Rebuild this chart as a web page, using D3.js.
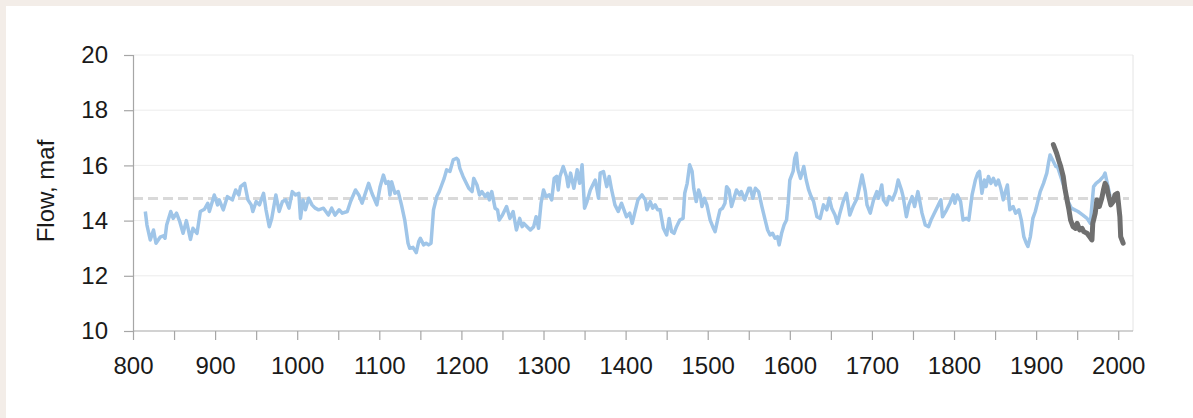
<!DOCTYPE html>
<html lang="en">
<head>
<meta charset="UTF-8">
<title>Flow reconstruction</title>
<script src="https://d3js.org/d3.v7.min.js"></script>
<style>
  html, body { margin: 0; padding: 0; background: #f3ede8; }
  svg text { font-family: "Liberation Sans", Arial, sans-serif; fill: #1a1a1a; }
</style>
</head>
<body>
<div id="chart"></div>
<script>
(function (d3) {
  'use strict';

  // reconstructed flow (blue)
  var reconYears = [
    815, 817, 821, 825, 828, 833, 837, 839, 841, 846, 849, 853, 857, 861, 865, 870, 873, 878, 882, 887,
    891, 893, 899, 903, 905, 910, 915, 921, 925, 929, 931, 936, 940, 944, 946, 950, 954, 959, 962, 966,
    969, 974, 978, 982, 986, 990, 994, 998, 1002, 1004, 1007, 1010, 1014, 1018, 1022, 1026, 1032, 1038, 1042, 1046,
    1051, 1055, 1061, 1065, 1071, 1075, 1079, 1083, 1087, 1091, 1097, 1101, 1105, 1108, 1111, 1113, 1115, 1119, 1123, 1127,
    1131, 1135, 1137, 1141, 1145, 1148, 1150, 1154, 1157, 1160, 1163, 1166, 1170, 1173, 1176, 1179, 1182, 1186, 1190, 1194,
    1196, 1198, 1202, 1206, 1209, 1213, 1215, 1219, 1222, 1225, 1229, 1232, 1234, 1237, 1241, 1244, 1246, 1250, 1255, 1259,
    1263, 1267, 1271, 1274, 1276, 1280, 1284, 1288, 1291, 1294, 1297, 1300, 1303, 1307, 1310, 1313, 1316, 1318, 1320, 1324,
    1328, 1330, 1333, 1337, 1341, 1344, 1347, 1350, 1353, 1357, 1361, 1363, 1367, 1369, 1373, 1377, 1380, 1383, 1387, 1391,
    1395, 1398, 1401, 1405, 1408, 1411, 1415, 1420, 1424, 1426, 1430, 1433, 1436, 1439, 1442, 1446, 1450, 1453, 1456, 1459,
    1462, 1466, 1470, 1472, 1475, 1478, 1481, 1483, 1486, 1489, 1491, 1493, 1496, 1499, 1503, 1507, 1509, 1512, 1515, 1518,
    1521, 1523, 1526, 1529, 1532, 1535, 1539, 1541, 1545, 1550, 1552, 1555, 1558, 1562, 1566, 1570, 1573, 1576, 1579, 1582,
    1585, 1587, 1590, 1593, 1596, 1598, 1600, 1604, 1606, 1608, 1610, 1613, 1617, 1620, 1623, 1626, 1629, 1633, 1637, 1641,
    1645, 1648, 1651, 1655, 1658, 1661, 1665, 1669, 1673, 1677, 1682, 1688, 1692, 1694, 1698, 1702, 1706, 1708, 1712, 1714,
    1718, 1721, 1725, 1729, 1732, 1736, 1738, 1742, 1745, 1749, 1752, 1756, 1758, 1761, 1765, 1769, 1772, 1776, 1781, 1784,
    1786, 1791, 1795, 1799, 1801, 1804, 1808, 1811, 1815, 1818, 1822, 1826, 1829, 1831, 1834, 1837, 1839, 1842, 1845, 1848,
    1851, 1854, 1857, 1860, 1862, 1865, 1868, 1872, 1875, 1879, 1882, 1885, 1888, 1890, 1893, 1896, 1899, 1902, 1905, 1909,
    1913, 1915, 1917, 1921, 1924, 1926, 1934, 1938, 1943, 1947, 1951, 1957, 1962, 1966, 1970, 1973, 1978, 1982, 1984, 1988,
    1990
  ];
  var reconFlow = [
    14.33, 13.84, 13.30, 13.66, 13.18, 13.40, 13.45, 13.36, 13.84, 14.33, 14.08, 14.27, 13.96, 13.54, 14.00, 13.32, 13.72, 13.54, 14.33, 14.41,
    14.63, 14.33, 14.93, 14.57, 14.75, 14.39, 14.87, 14.75, 15.11, 14.93, 15.23, 15.35, 14.75, 14.57, 14.33, 14.69, 14.57, 14.99, 14.39, 13.78,
    14.08, 14.93, 14.33, 14.69, 14.75, 14.45, 15.05, 14.93, 14.99, 14.08, 14.75, 14.39, 14.81, 14.57, 14.45, 14.39, 14.45, 14.20, 14.45, 14.20,
    14.39, 14.27, 14.33, 14.69, 15.11, 14.93, 14.63, 14.99, 15.35, 14.99, 14.57, 15.23, 15.65, 15.35, 15.41, 14.93, 15.41, 14.99, 15.05, 14.57,
    14.02, 13.18, 13.00, 13.03, 12.84, 13.24, 13.36, 13.12, 13.18, 13.12, 13.18, 14.39, 14.87, 15.05, 15.29, 15.53, 15.84, 15.78, 16.20, 16.26,
    16.20, 15.90, 15.60, 15.35, 15.17, 15.05, 15.53, 15.29, 14.93, 15.05, 14.87, 14.99, 14.75, 15.05, 14.45, 14.39, 14.02, 14.20, 14.51, 14.08,
    14.33, 13.66, 14.08, 13.78, 13.90, 13.78, 13.66, 13.78, 14.14, 13.72, 14.63, 15.11, 14.87, 14.93, 14.75, 15.53, 15.60, 15.11, 15.60, 15.96,
    15.60, 15.23, 15.72, 15.17, 15.84, 15.35, 16.02, 14.45, 14.69, 15.11, 15.35, 15.47, 14.81, 15.72, 15.78, 15.23, 15.60, 15.11, 14.57, 14.33,
    14.63, 14.39, 14.14, 14.27, 13.90, 14.27, 14.75, 14.93, 14.75, 14.39, 14.69, 14.45, 14.57, 14.39, 14.39, 13.72, 13.48, 14.08, 13.60, 13.54,
    13.78, 14.02, 14.08, 14.99, 15.35, 16.02, 15.78, 15.17, 14.69, 15.11, 14.93, 14.51, 14.81, 14.57, 14.02, 13.72, 13.60, 14.02, 14.39, 14.45,
    14.63, 15.23, 15.11, 14.51, 14.81, 15.11, 14.93, 15.05, 14.75, 15.17, 15.17, 14.81, 15.17, 15.05, 14.51, 14.02, 13.66, 13.48, 13.54, 13.36,
    13.42, 13.12, 13.54, 13.84, 14.02, 14.63, 15.47, 15.78, 16.26, 16.44, 15.84, 15.53, 15.96, 15.47, 15.11, 14.87, 14.69, 14.14, 14.08, 14.57,
    14.39, 14.81, 14.45, 14.20, 13.90, 14.27, 14.69, 14.99, 14.20, 14.51, 14.81, 15.65, 15.05, 14.57, 14.27, 14.75, 15.05, 14.81, 15.29, 14.75,
    14.57, 14.87, 14.75, 15.05, 15.47, 15.11, 14.87, 14.14, 14.57, 14.87, 14.51, 15.05, 14.75, 14.27, 13.84, 13.78, 14.02, 14.27, 14.57, 14.75,
    14.14, 14.39, 14.63, 14.93, 14.63, 14.93, 14.69, 14.02, 14.08, 14.02, 14.93, 15.47, 15.72, 15.78, 14.99, 15.47, 15.23, 15.60, 15.35, 15.53,
    15.29, 15.47, 15.17, 14.75, 14.99, 15.29, 14.39, 14.51, 14.27, 14.39, 14.02, 13.42, 13.18, 13.06, 13.42, 14.08, 14.33, 14.69, 15.05, 15.35,
    15.72, 16.08, 16.38, 16.14, 15.96, 15.96, 15.23, 14.75, 14.45, 14.39, 14.33, 14.20, 14.08, 13.90, 15.23, 15.35, 15.47, 15.60, 15.72, 15.17,
    14.87
  ];

  // observed flow (gray)
  var obsYears = [
    1921, 1925, 1928, 1930, 1933, 1935, 1938, 1940, 1942, 1945, 1948, 1950, 1953, 1956, 1958, 1962, 1965, 1968, 1969, 1972,
    1974, 1977, 1980, 1982, 1984, 1986, 1988, 1991, 1994, 1996, 1999, 2002, 2003, 2006
  ];
  var obsFlow = [
    16.75, 16.44, 16.14, 15.96, 15.60, 15.17, 14.69, 14.39, 14.02, 13.78, 13.72, 13.90, 13.66, 13.72, 13.60, 13.54, 13.42, 13.30, 13.90, 14.27,
    14.75, 14.51, 14.81, 15.11, 15.35, 15.23, 14.93, 14.57, 14.69, 14.93, 14.99, 14.14, 13.42, 13.18
  ];

  var meanFlow = 14.8;
  var yTicks = [10, 12, 14, 16, 18, 20];
  var xLabelTicks = [800, 900, 1000, 1100, 1200, 1300, 1400, 1500, 1600, 1700, 1800, 1900, 2000];
  var yLabel = 'Flow, maf';

  var width = 1193, height = 418;
  var plot = { left: 133, right: 1133, top: 55, bottom: 331 };

  var svg = d3.select('#chart').append('svg')
    .attr('width', width)
    .attr('height', height)
    .style('display', 'block');

  // white card
  svg.append('rect')
    .attr('x', 6).attr('y', 6)
    .attr('width', width - 6).attr('height', height - 6)
    .attr('fill', '#ffffff');

  var x = d3.scaleLinear().domain([800, 2018]).range([plot.left, plot.right]);
  var y = d3.scaleLinear().domain([10, 20]).range([plot.bottom, plot.top]);

  // gridlines
  svg.append('g').selectAll('line')
    .data(yTicks.slice(1))
    .enter().append('line')
    .attr('x1', plot.left).attr('x2', plot.right)
    .attr('y1', function (d) { return y(d); })
    .attr('y2', function (d) { return y(d); })
    .attr('stroke', '#ececec')
    .attr('stroke-width', 1);

  // right border
  svg.append('line')
    .attr('x1', plot.right).attr('x2', plot.right)
    .attr('y1', plot.top).attr('y2', plot.bottom)
    .attr('stroke', '#e4e4e4');

  // long-term mean
  svg.append('line')
    .attr('x1', x(800)).attr('x2', plot.right - 4)
    .attr('y1', y(meanFlow)).attr('y2', y(meanFlow))
    .attr('stroke', '#d9d9d9')
    .attr('stroke-width', 3)
    .attr('stroke-dasharray', '10,5');

  var recon = reconYears.map(function (yr, i) { return [yr, reconFlow[i]]; });
  var obs = obsYears.map(function (yr, i) { return [yr, obsFlow[i]]; });

  var line = d3.line()
    .x(function (d) { return x(d[0]); })
    .y(function (d) { return y(d[1]); });

  svg.append('path')
    .datum(recon)
    .attr('d', line)
    .attr('fill', 'none')
    .attr('stroke', '#9fc5e8')
    .attr('stroke-width', 3.5)
    .attr('stroke-linejoin', 'round');

  svg.append('path')
    .datum(obs)
    .attr('d', line)
    .attr('fill', 'none')
    .attr('stroke', '#6f6f6f')
    .attr('stroke-width', 5)
    .attr('stroke-linejoin', 'round')
    .attr('stroke-linecap', 'round');

  // axes
  var xAxis = d3.axisBottom(x)
    .tickValues(d3.range(800, 2001, 50))
    .tickSize(9)
    .tickPadding(17)
    .tickFormat(function (d) { return xLabelTicks.indexOf(d) >= 0 ? d : ''; });

  var gx = svg.append('g')
    .attr('transform', 'translate(0,' + plot.bottom + ')')
    .call(xAxis);
  gx.select('.domain').attr('d', 'M' + plot.left + ',0H' + plot.right);

  var yAxis = d3.axisLeft(y)
    .tickValues(yTicks)
    .tickSize(9)
    .tickPadding(16)
    .tickFormat(d3.format('d'));

  var gy = svg.append('g')
    .attr('transform', 'translate(' + plot.left + ',0)')
    .call(yAxis);

  [gx, gy].forEach(function (g) {
    g.selectAll('.domain').attr('stroke', '#a6a6a6').attr('stroke-width', 1.2);
    g.selectAll('.tick line').attr('stroke', '#a6a6a6').attr('stroke-width', 1.2);
    g.selectAll('.tick text')
      .attr('font-size', 24)
      .attr('fill', '#1a1a1a')
      .style('font-family', '"Liberation Sans", Arial, sans-serif');
  });

  svg.append('text')
    .attr('transform', 'translate(54,' + 191 + ') rotate(-90)')
    .attr('text-anchor', 'middle')
    .attr('font-size', 24)
    .text(yLabel);

})(window.d3);
</script>
</body>
</html>
